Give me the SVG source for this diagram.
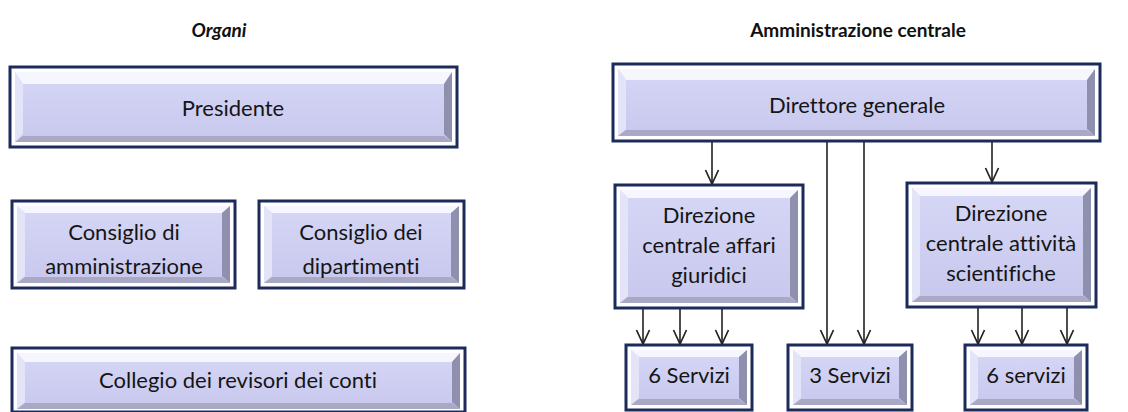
<svg xmlns="http://www.w3.org/2000/svg" width="1128" height="412" viewBox="0 0 1128 412">
<defs>
<linearGradient id="face" x1="0" y1="0" x2="0" y2="1">
<stop offset="0" stop-color="#d6d6f6"/>
<stop offset="1" stop-color="#c8c8ee"/>
</linearGradient>
<marker id="arr" viewBox="0 0 16 16" markerWidth="16" markerHeight="16" refX="15" refY="8" orient="auto" markerUnits="userSpaceOnUse">
<path d="M1,1.5 L15,8 L1,14.5" fill="none" stroke="#222" stroke-width="1.7"/>
</marker>
</defs>
<style>
.frame{fill:#ffffff;stroke:#1d2a5c;stroke-width:3}
.face{fill:url(#face)}
.bt{fill:#f6f6ff}
.bl{fill:#e4e4f8}
.br{fill:#8f8fae}
.bb{fill:#a9a9c6}
.lbl{font-family:Lato,"Liberation Sans",sans-serif;font-size:22px;fill:#151515;text-anchor:middle;font-variant-ligatures:none}
.title{font-family:Lato,"Liberation Sans",sans-serif;font-size:19px;font-weight:bold;fill:#111;text-anchor:middle}
.conn line{stroke:#222;stroke-width:1.6;marker-end:url(#arr)}
</style>
<rect width="1128" height="412" fill="#ffffff"/>
<text class="title" x="219" y="37" font-style="italic">Organi</text>
<text class="title" x="858" y="37">Amministrazione centrale</text>

<g id="presidente">
<rect class="frame" x="10" y="67" width="447" height="80"/>
<rect class="face" x="15" y="72" width="437" height="70"/>
<polygon class="bt" points="15,72 452,72 444,84 23,84"/>
<polygon class="bl" points="15,72 23,84 23,134 15,142"/>
<polygon class="br" points="452,72 452,142 444,134 444,84"/>
<polygon class="bb" points="15,142 452,142 444,136 23,136"/>
<text class="lbl" x="233" y="116">Presidente</text>
</g>

<g id="consiglio-amm">
<rect class="frame" x="12" y="201" width="223" height="87"/>
<rect class="face" x="17" y="206" width="213" height="77"/>
<polygon class="bt" points="17,206 230,206 222,213 25,213"/>
<polygon class="bl" points="17,206 25,213 25,276 17,283"/>
<polygon class="br" points="230,206 230,283 222,276 222,213"/>
<polygon class="bb" points="17,283 230,283 222,277 25,277"/>
<text class="lbl" x="124" y="240">Consiglio di</text>
<text class="lbl" x="124" y="274">amministrazione</text>
</g>

<g id="consiglio-dip">
<rect class="frame" x="259" y="201" width="205" height="87"/>
<rect class="face" x="264" y="206" width="195" height="77"/>
<polygon class="bt" points="264,206 459,206 451,213 272,213"/>
<polygon class="bl" points="264,206 272,213 272,276 264,283"/>
<polygon class="br" points="459,206 459,283 451,276 451,213"/>
<polygon class="bb" points="264,283 459,283 451,277 272,277"/>
<text class="lbl" x="361" y="240">Consiglio dei</text>
<text class="lbl" x="361" y="274">dipartimenti</text>
</g>

<g id="collegio">
<rect class="frame" x="12" y="348" width="453" height="64"/>
<rect class="face" x="17" y="353" width="443" height="56"/>
<polygon class="bt" points="17,353 460,353 452,362 25,362"/>
<polygon class="bl" points="17,353 25,362 25,402 17,409"/>
<polygon class="br" points="460,353 460,409 452,402 452,362"/>
<polygon class="bb" points="17,409 460,409 452,403 25,403"/>
<text class="lbl" x="238" y="388">Collegio dei revisori dei conti</text>
</g>

<g id="direttore">
<rect class="frame" x="613" y="64" width="487" height="77"/>
<rect class="face" x="618" y="69" width="477" height="67"/>
<polygon class="bt" points="618,69 1095,69 1087,80 626,80"/>
<polygon class="bl" points="618,69 626,80 626,129 618,136"/>
<polygon class="br" points="1095,69 1095,136 1087,129 1087,80"/>
<polygon class="bb" points="618,136 1095,136 1087,130 626,130"/>
<text class="lbl" x="857" y="113">Direttore generale</text>
</g>

<g id="dir-affari">
<rect class="frame" x="615" y="185" width="188" height="123"/>
<rect class="face" x="620" y="190" width="178" height="113"/>
<polygon class="bt" points="620,190 798,190 790,198 628,198"/>
<polygon class="bl" points="620,190 628,198 628,296 620,303"/>
<polygon class="br" points="798,190 798,303 790,296 790,198"/>
<polygon class="bb" points="620,303 798,303 790,297 628,297"/>
<text class="lbl" x="709" y="223">Direzione</text>
<text class="lbl" x="709" y="253">centrale affari</text>
<text class="lbl" x="709" y="283">giuridici</text>
</g>

<g id="dir-attivita">
<rect class="frame" x="907" y="183" width="189" height="124"/>
<rect class="face" x="912" y="188" width="179" height="114"/>
<polygon class="bt" points="912,188 1091,188 1083,196 920,196"/>
<polygon class="bl" points="912,188 920,196 920,295 912,302"/>
<polygon class="br" points="1091,188 1091,302 1083,295 1083,196"/>
<polygon class="bb" points="912,302 1091,302 1083,296 920,296"/>
<text class="lbl" x="1001" y="221">Direzione</text>
<text class="lbl" x="1001" y="251">centrale attività</text>
<text class="lbl" x="1001" y="281">scientifiche</text>
</g>

<g id="servizi-6a">
<rect class="frame" x="626" y="345" width="126" height="65"/>
<rect class="face" x="631" y="350" width="116" height="55"/>
<polygon class="bt" points="631,350 747,350 739,357 639,357"/>
<polygon class="bl" points="631,350 639,357 639,398 631,405"/>
<polygon class="br" points="747,350 747,405 739,398 739,357"/>
<polygon class="bb" points="631,405 747,405 739,399 639,399"/>
<text class="lbl" x="689" y="383">6 Servizi</text>
</g>

<g id="servizi-3">
<rect class="frame" x="788" y="345" width="124" height="65"/>
<rect class="face" x="793" y="350" width="114" height="55"/>
<polygon class="bt" points="793,350 907,350 899,357 801,357"/>
<polygon class="bl" points="793,350 801,357 801,398 793,405"/>
<polygon class="br" points="907,350 907,405 899,398 899,357"/>
<polygon class="bb" points="793,405 907,405 899,399 801,399"/>
<text class="lbl" x="850" y="383">3 Servizi</text>
</g>

<g id="servizi-6b">
<rect class="frame" x="965" y="345" width="122" height="65"/>
<rect class="face" x="970" y="350" width="112" height="55"/>
<polygon class="bt" points="970,350 1082,350 1074,357 978,357"/>
<polygon class="bl" points="970,350 978,357 978,398 970,405"/>
<polygon class="br" points="1082,350 1082,405 1074,398 1074,357"/>
<polygon class="bb" points="970,405 1082,405 1074,399 978,399"/>
<text class="lbl" x="1026" y="383">6 servizi</text>
</g>

<g id="connectors" class="conn">
<line x1="712" y1="142" x2="712" y2="184"/>
<line x1="827" y1="142" x2="827" y2="344"/>
<line x1="864" y1="142" x2="864" y2="344"/>
<line x1="992" y1="142" x2="992" y2="182"/>
<line x1="643" y1="309" x2="643" y2="344"/>
<line x1="680" y1="309" x2="680" y2="344"/>
<line x1="722" y1="309" x2="722" y2="344"/>
<line x1="978" y1="308" x2="978" y2="344"/>
<line x1="1022" y1="308" x2="1022" y2="344"/>
<line x1="1067" y1="308" x2="1067" y2="344"/>
</g>
</svg>
